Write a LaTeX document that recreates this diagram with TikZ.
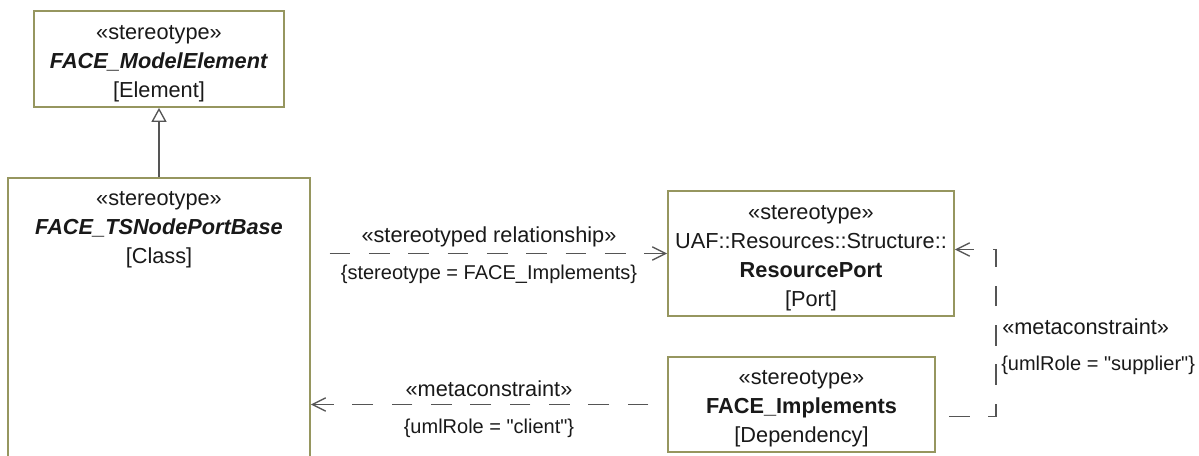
\documentclass[tikz,border=0pt]{standalone}
\usepackage{fontspec}
\setmainfont{Liberation Sans}[Ligatures=TeXOff]
\usetikzlibrary{arrows.meta,positioning}
\definecolor{boxline}{RGB}{150,150,95}
\definecolor{conline}{RGB}{85,85,85}
\definecolor{txt}{RGB}{25,25,25}
\newcommand{\topgap}{\rule{0pt}{17pt}}

\begin{document}
\begin{tikzpicture}[
  x=0.75pt, y=-0.75pt,
  font=\fontsize{16.3pt}{21.75pt}\selectfont,
  elem/.style={rectangle, draw=boxline, line width=1.3pt, fill=white, align=center, inner sep=0pt, text=txt},
  lbl/.style={text=txt, inner sep=0pt},
  cons/.style={lbl, font=\fontsize{15pt}{18pt}\selectfont},
  dep/.style={conline, line width=1.2pt, dash pattern=on 15.5pt off 14pt, dash phase=15.5pt, -{Straight Barb[length=10pt, width=10pt, line width=1pt]}},
  gen/.style={conline, line width=1.2pt, -{Triangle[open, length=10.5pt, width=11.25pt, line width=1pt]}}]
\useasboundingbox (0,0) rectangle (1199,455);
\clip (0,0) rectangle (1199,455);
\node[elem, minimum width=187.5pt, minimum height=72pt] (modelelem) at (159,59) {\topgap«stereotype»\\\textbf{\textit{FACE\_ModelElement}}\\{}[Element]};
\node[elem, minimum width=226.5pt, minimum height=241.5pt] (tsbase) at (159,339) {};
\node[lbl, align=center] (tsbasetxt) at (159,230) {«stereotype»\\\textbf{\textit{FACE\_TSNodePortBase}}\\{}[Class]};
\node[elem, minimum width=214.5pt, minimum height=93.75pt] (resport) at (811,253.5) {\topgap«stereotype»\\UAF::Resources::Structure::\\\textbf{ResourcePort}\\{}[Port]};
\node[elem, minimum width=200.25pt, minimum height=71.25pt] (faceimpl) at (801.5,404.5) {\topgap«stereotype»\\\textbf{FACE\_Implements}\\{}[Dependency]};
% connectors
\draw[gen] (tsbase.north -| modelelem.south) -- (modelelem.south);
\draw[dep] (tsbase.east |- resport.west) -- (resport.west)
  node[lbl, midway, yshift=12.75pt] (stereolbl) {«stereotyped relationship»}
  node[cons, midway, yshift=-15.5pt] (stereocons) {\{stereotype = FACE\_Implements\}};
\draw[dep] (faceimpl.west) -- (tsbase.east |- faceimpl.west)
  node[lbl, midway, yshift=11.5pt] (clientlbl) {«metaconstraint»}
  node[cons, midway, yshift=-17.5pt] (clientcons) {\{umlRole = "client"\}};
\draw[dep, dash phase=19.75pt] ([yshift=-9pt]faceimpl.east) -| ([xshift=30.75pt, yshift=3pt]resport.east) -- ([yshift=3pt]resport.east);
\node[lbl, anchor=west] (supplierlbl) at (1002,327) {«metaconstraint»};
\node[cons, anchor=west] (suppliercons) at (1001,365) {\{umlRole = "supplier"\}};
\end{tikzpicture}
\end{document}
